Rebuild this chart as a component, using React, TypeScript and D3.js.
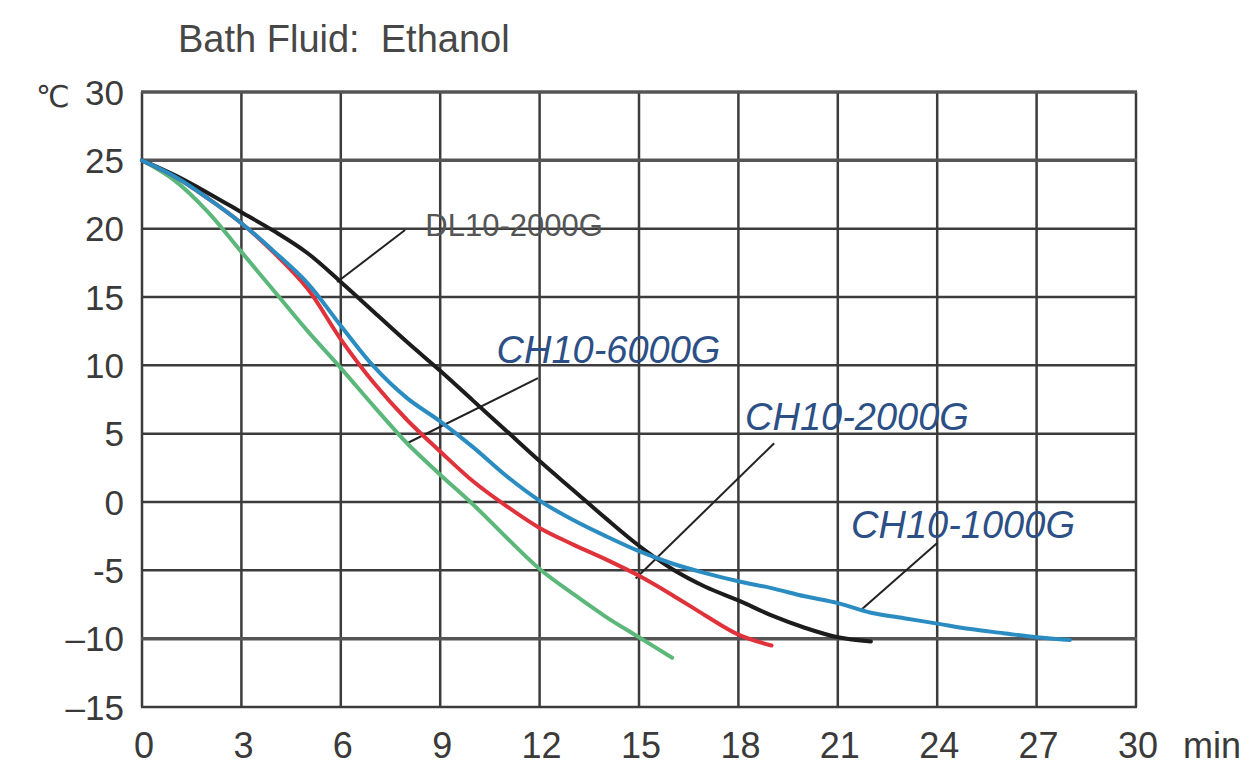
import React from "react";
import * as d3 from "d3";

const xTicks = [0, 3, 6, 9, 12, 15, 18, 21, 24, 27, 30];
const yTicks = [30, 25, 20, 15, 10, 5, 0, -5, -10, -15];
const yTickLabels = ["30", "25", "20", "15", "10", "5", "0", "-5", "\u201310", "\u201315"];

const timeDL = [0, 1, 2, 3, 4, 5, 6, 7, 8, 9, 10, 11, 12, 13, 14, 15, 16, 17, 18, 19, 20, 21, 22];
const tempDL2000 = [25, 23.9, 22.6, 21.2, 19.8, 18.2, 16.1, 13.9, 11.7, 9.6, 7.4, 5.2, 3.0, 0.9, -1.2, -3.2, -4.9, -6.2, -7.2, -8.3, -9.2, -9.9, -10.2];

const time1000 = [0, 1, 2, 3, 4, 5, 6, 7, 8, 9, 10, 11, 12, 13, 14, 15, 16, 17, 18, 19, 20, 21, 22, 23, 24, 25, 26, 27, 28];
const tempCH1000 = [25, 23.8, 22.2, 20.4, 18.3, 16.0, 12.9, 9.9, 7.6, 5.9, 4.0, 1.9, 0.1, -1.3, -2.5, -3.6, -4.5, -5.2, -5.8, -6.3, -6.9, -7.4, -8.1, -8.5, -8.9, -9.3, -9.6, -9.9, -10.1];

const time2000 = [0, 1, 2, 3, 4, 5, 6, 7, 8, 9, 10, 11, 12, 13, 14, 15, 16, 17, 18, 19];
const tempCH2000 = [25, 23.8, 22.2, 20.4, 18.2, 15.6, 11.9, 8.7, 6.0, 3.7, 1.5, -0.3, -1.9, -3.1, -4.2, -5.4, -6.8, -8.3, -9.7, -10.5];

const time6000 = [0, 1, 2, 3, 4, 5, 6, 7, 8, 9, 10, 11, 12, 13, 14, 15, 16];
const tempCH6000 = [25, 23.5, 21.2, 18.3, 15.4, 12.5, 9.8, 7.0, 4.3, 2.0, -0.2, -2.6, -4.9, -6.7, -8.4, -9.9, -11.4];

const seriesNames = ["CH10-6000G", "CH10-2000G", "DL10-2000G", "CH10-1000G"];

// annotations: label anchor (t, v) and leader line from (t1,v1) to (t2,v2)
const labelNames = ["DL10-2000G", "CH10-6000G", "CH10-2000G", "CH10-1000G"];
const labelT = [8.55, 10.7, 18.2, 21.4];
const labelV = [19.5, 10.2, 5.3, -2.6];
const leadT1 = [7.94, 11.95, 19.08, 24.0];
const leadV1 = [19.9, 9.06, 4.3, -3.0];
const leadT2 = [5.89, 8.0, 14.9, 21.7];
const leadV2 = [16.1, 4.3, -5.6, -7.9];

const W = 1250;
const H = 772;

export default function App() {
  const x = d3.scaleLinear().domain([0, 30]).range([142, 1136]);
  const y = d3.scaleLinear().domain([30, -15]).range([92, 707]);

  const mk = (ts: number[], vs: number[]) => ts.map((t, i) => [t, vs[i]] as [number, number]);
  const line = d3
    .line<[number, number]>()
    .x((d) => x(d[0]))
    .y((d) => y(d[1]))
    .curve(d3.curveCatmullRom.alpha(0.5));

  const series = [
    { name: seriesNames[0], data: mk(time6000, tempCH6000), color: "#5cb87a" },
    { name: seriesNames[1], data: mk(time2000, tempCH2000), color: "#e0323a" },
    { name: seriesNames[2], data: mk(timeDL, tempDL2000), color: "#1c1c1c" },
    { name: seriesNames[3], data: mk(time1000, tempCH1000), color: "#2a8cc0" },
  ];

  const font = "'Liberation Sans', Arial, sans-serif";

  return (
    <svg
      width={W}
      height={H}
      style={{ position: "absolute", left: 0, top: 0, background: "#fff" }}
      fontFamily={font}
    >
      <rect x={0} y={0} width={W} height={H} fill="#fff" />
      <text x={178} y={52} fontSize={38} fill="#474747" style={{ whiteSpace: "pre" }}>
        {"Bath Fluid:  Ethanol"}
      </text>

      {/* grid */}
      {xTicks.map((t) => (
        <line key={"vx" + t} x1={x(t)} x2={x(t)} y1={y(30)} y2={y(-15)} stroke="#3c3c3c" strokeWidth={2.5} />
      ))}
      {yTicks.map((v) => (
        <line
          key={"hy" + v}
          x1={x(0) - 1}
          x2={x(30) + 1}
          y1={y(v)}
          y2={y(v)}
          stroke={v === -10 || v === 25 || v === 30 ? "#555" : "#3c3c3c"}
          strokeWidth={v === -10 || v === 25 || v === 30 ? 3.5 : 2.5}
        />
      ))}

      {/* y tick labels */}
      {yTicks.map((v, i) => (
        <text
          key={"yl" + v}
          x={124}
          y={y(v)}
          dy="0.36em"
          textAnchor="end"
          fontSize={35}
          fill="#3a3a3a"
        >
          {yTickLabels[i]}
        </text>
      ))}
      <text x={36} y={107} fontSize={30} fill="#3a3a3a" fontFamily="'DejaVu Sans', sans-serif">
        ℃
      </text>

      {/* x tick labels */}
      {xTicks.map((t) => (
        <text key={"xl" + t} x={x(t) + 2} y={758} textAnchor="middle" fontSize={36} fill="#3a3a3a">
          {String(t)}
        </text>
      ))}
      <text x={1183} y={758} fontSize={36} fill="#3a3a3a">
        min
      </text>

      {/* leader lines */}
      {labelNames.map((n, i) => (
        <line
          key={"ld" + n}
          x1={x(leadT1[i])}
          y1={y(leadV1[i])}
          x2={x(leadT2[i])}
          y2={y(leadV2[i])}
          stroke="#222"
          strokeWidth={2}
        />
      ))}

      {/* curves */}
      {series.map((s) => (
        <path
          key={s.name}
          d={line(s.data) || ""}
          fill="none"
          stroke={s.color}
          strokeWidth={4}
          strokeLinecap="round"
          strokeLinejoin="round"
        />
      ))}

      {/* labels */}
      {labelNames.map((n, i) => (
        <text
          key={"lb" + n}
          x={x(labelT[i])}
          y={y(labelV[i])}
          fontSize={i === 0 ? 31 : 38}
          fontStyle={i === 0 ? "normal" : "italic"}
          fill={i === 0 ? "#555" : "#2c4f86"}
        >
          {n}
        </text>
      ))}
    </svg>
  );
}
